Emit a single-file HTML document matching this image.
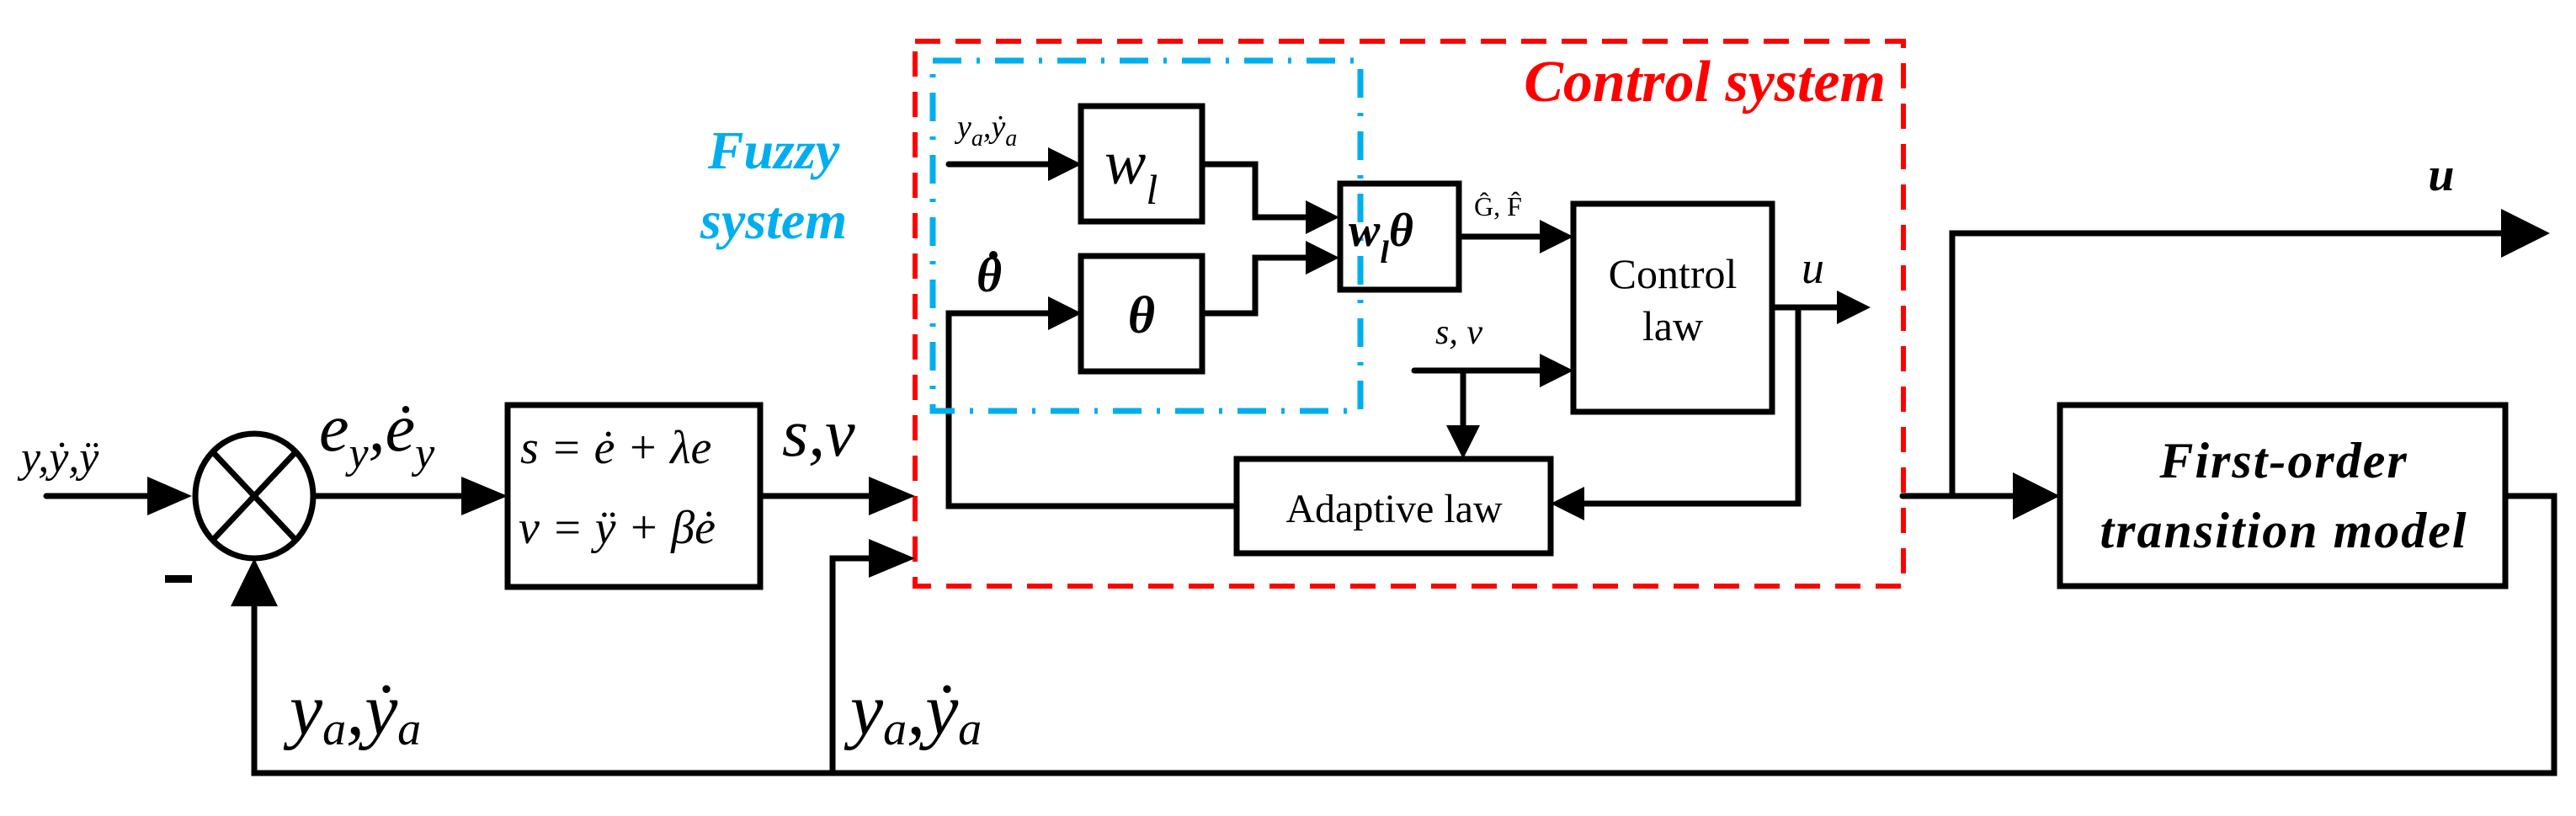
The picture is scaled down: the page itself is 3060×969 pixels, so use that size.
<!DOCTYPE html>
<html><head><meta charset="utf-8"><style>
html,body{margin:0;padding:0;background:#fff;}
svg{display:block;}
</style></head><body>
<svg width="3060" height="969" viewBox="0 0 3060 969" xmlns="http://www.w3.org/2000/svg" font-family="'Liberation Serif', 'DejaVu Serif', serif">
<g fill="none" stroke="#000" stroke-width="7" stroke-linejoin="miter" stroke-linecap="round">
  <line x1="55" y1="589" x2="190" y2="589"/>
  <ellipse cx="302" cy="589" rx="70" ry="74"/>
  <line x1="253" y1="537" x2="351" y2="641"/>
  <line x1="351" y1="537" x2="253" y2="641"/>
  <line x1="372" y1="589" x2="565" y2="589"/>
  <rect x="603" y="481" width="300" height="216"/>
  <line x1="903" y1="589" x2="1050" y2="589"/>
  <polyline points="1050,663 989,663 989,918"/>
  <polyline points="302,715 302,918 3034,918 3034,589 2976,589"/>
  <line x1="2260" y1="589" x2="2395" y2="589"/>
  <polyline points="2319,589 2319,277 2975,277"/>
  <rect x="2447" y="481" width="529" height="215"/>
  <line x1="1127" y1="195" x2="1250" y2="195"/>
  <rect x="1284" y="126" width="144" height="137"/>
  <rect x="1284" y="304" width="144" height="137"/>
  <polyline points="1250,372 1127,372 1127,601 1469,601"/>
  <polyline points="1428,195 1491,195 1491,258 1555,258"/>
  <polyline points="1428,372 1491,372 1491,306 1555,306"/>
  <rect x="1592" y="218" width="141" height="126"/>
  <line x1="1733" y1="281" x2="1833" y2="281"/>
  <rect x="1869" y="242" width="236" height="247"/>
  <line x1="1680" y1="440" x2="1833" y2="440"/>
  <line x1="1738" y1="440" x2="1738" y2="508"/>
  <rect x="1469" y="545" width="373" height="112"/>
  <line x1="2105" y1="365" x2="2186" y2="365"/>
  <polyline points="2136,365 2136,598 1878,598"/>
</g>
<rect x="1087" y="49" width="1174" height="647" fill="none" stroke="#ff0000" stroke-width="6" stroke-dasharray="30 18"/>
<rect x="1108" y="72" width="508" height="416" fill="none" stroke="#00aeef" stroke-width="7" stroke-dasharray="34 18 4 18"/>
<g fill="#000">
  <polygon points="175,566 228,589 175,612"/>
  <polygon points="548,566 603,589 548,612"/>
  <polygon points="1032,566 1087,589 1032,612"/>
  <polygon points="1032,640 1087,663 1032,686"/>
  <polygon points="274,720 302,663 330,720"/>
  <polygon points="2391,561 2447,589 2391,617"/>
  <polygon points="2971,248 3029,277 2971,306"/>
  <polygon points="1245,175 1285,195 1245,215"/>
  <polygon points="1245,352 1285,372 1245,392"/>
  <polygon points="1551,238 1591,258 1551,278"/>
  <polygon points="1551,286 1591,306 1551,326"/>
  <polygon points="1829,261 1869,281 1829,301"/>
  <polygon points="1829,420 1869,440 1829,460"/>
  <polygon points="1718,505 1738,545 1758,505"/>
  <polygon points="2182,345 2222,365 2182,385"/>
  <polygon points="1882,578 1842,598 1882,618"/>
</g>
<g fill="#000">
<text x="25" y="560" font-style="italic" font-size="52">y,ẏ,ÿ</text>
<rect x="196" y="683" width="32" height="9"/>
<text x="379" y="535" font-style="italic" font-size="80">e<tspan font-size="52" dy="20">y</tspan><tspan dy="-20">,ė</tspan><tspan font-size="52" dy="20">y</tspan></text>
<text x="618" y="550" font-style="italic" font-size="56">s = ė + λe</text>
<text x="616" y="645" font-style="italic" font-size="56">v = ÿ + βė</text>
<text x="929" y="541" font-style="italic" font-size="80">s,v</text>
<text x="344" y="872" font-style="italic" font-size="88">y<tspan font-size="56" dy="12">a</tspan><tspan dy="-12">,ẏ</tspan><tspan font-size="56" dy="12">a</tspan></text>
<text x="1010" y="872" font-style="italic" font-size="88">y<tspan font-size="56" dy="12">a</tspan><tspan dy="-12">,ẏ</tspan><tspan font-size="56" dy="12">a</tspan></text>
<text x="919" y="200" font-style="italic" font-weight="bold" font-size="64" text-anchor="middle" fill="#00aeef">Fuzzy</text>
<text x="919" y="283" font-style="italic" font-weight="bold" font-size="64" text-anchor="middle" fill="#00aeef">system</text>
<text x="2240" y="120" font-style="italic" font-weight="bold" font-size="70" text-anchor="end" fill="#ff0000">Control system</text>
<text x="1137" y="163" font-style="italic" font-size="38">y<tspan font-size="28" dy="10">a</tspan><tspan dy="-10">,ẏ</tspan><tspan font-size="28" dy="10">a</tspan></text>
<text x="1312" y="218" font-style="italic" font-size="74">w<tspan font-size="50" dy="24">l</tspan></text>
<text x="1160" y="346" font-style="italic" font-weight="bold" font-size="58">θ</text>
<circle cx="1180" cy="303" r="5"/>
<text x="1356" y="395" font-style="italic" font-weight="bold" font-size="62" text-anchor="middle">θ</text>
<text x="1602" y="292" font-style="italic" font-weight="bold" font-size="56">w<tspan font-size="38" dy="20">l</tspan><tspan dy="-20">θ</tspan></text>
<text x="1751" y="256" font-size="32">Ĝ, F̂</text>
<text x="1987" y="342" font-size="50" text-anchor="middle">Control</text>
<text x="1987" y="404" font-size="50" text-anchor="middle">law</text>
<text x="2140" y="336" font-style="italic" font-size="54">u</text>
<text x="1705" y="408" font-style="italic" font-size="42">s, v</text>
<text x="1656" y="620" font-size="48" text-anchor="middle">Adaptive law</text>
<text x="2900" y="226" font-style="italic" font-weight="bold" font-size="56" text-anchor="middle">u</text>
<text x="2713" y="567" font-style="italic" font-weight="bold" font-size="60" text-anchor="middle" letter-spacing="2">First-order</text>
<text x="2713" y="650" font-style="italic" font-weight="bold" font-size="60" text-anchor="middle" letter-spacing="2">transition model</text>
</g>
</svg>
</body></html>
